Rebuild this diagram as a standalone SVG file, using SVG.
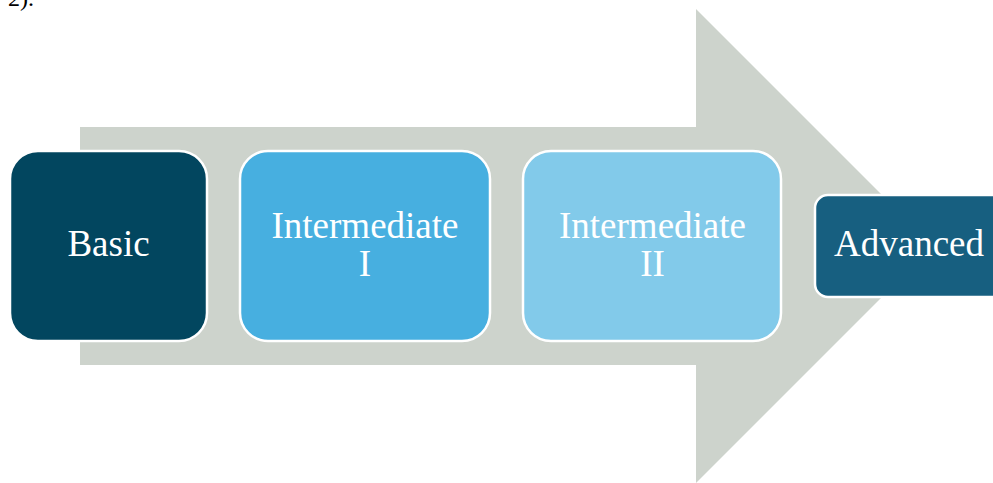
<svg xmlns="http://www.w3.org/2000/svg" width="993" height="483" viewBox="0 0 993 483">
<style>
.box{stroke:#ffffff;stroke-width:2.5}
.lbl{font-family:"Liberation Serif","Times New Roman",serif;font-size:37px;fill:#ffffff;text-anchor:middle}
.cap{font-family:"Liberation Serif","Times New Roman",serif;font-size:24px;fill:#000000}
</style>
<rect width="993" height="483" fill="#ffffff"/>
<text class="cap" x="8" y="6">2).</text>
<g id="connectors">
<polygon id="arrow" points="80,127 696,127 696,9 933,246 696,483 696,365 80,365" fill="#cdd3cc"/>
</g>
<g id="basic">
<rect class="box" x="10" y="151" width="197" height="190" rx="28" fill="#02465f"/>
<text class="lbl" x="108.5" y="256">Basic</text>
</g>
<g id="intermediate1">
<rect class="box" x="240" y="151" width="250" height="190" rx="28" fill="#47afe0"/>
<text class="lbl" x="365" y="238">Intermediate</text>
<text class="lbl" x="365" y="276">I</text>
</g>
<g id="intermediate2">
<rect class="box" x="523" y="151" width="258" height="190" rx="28" fill="#82caea"/>
<text class="lbl" x="652.5" y="238">Intermediate</text>
<text class="lbl" x="652.5" y="276">II</text>
</g>
<g id="advanced">
<rect class="box" x="815" y="195" width="200" height="102" rx="13" fill="#175f80"/>
<text class="lbl" x="909" y="256">Advanced</text>
</g>
</svg>
